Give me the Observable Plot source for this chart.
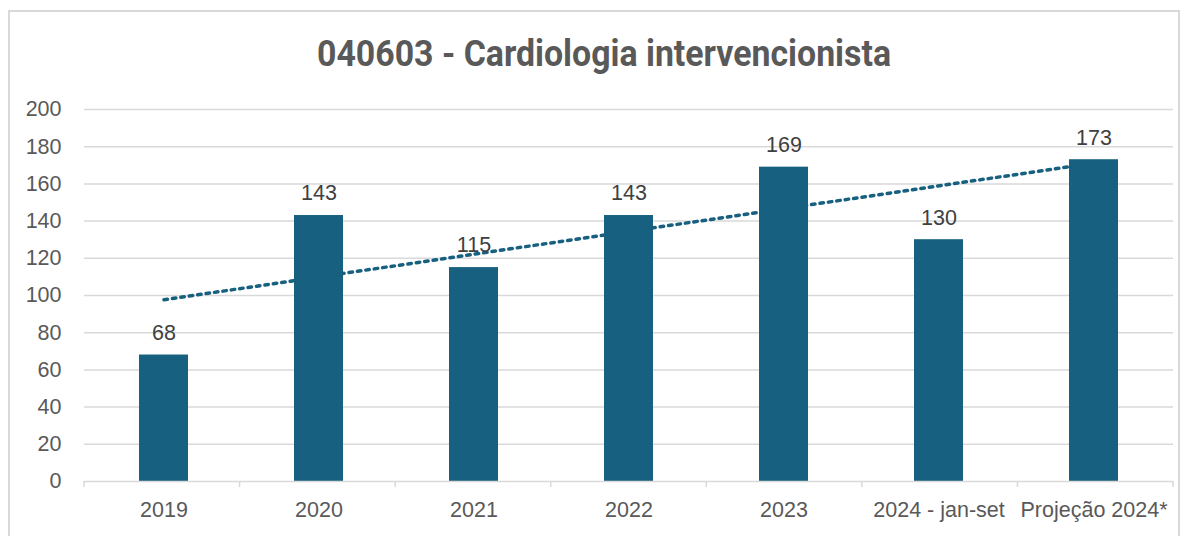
<!DOCTYPE html>
<html>
<head>
<meta charset="utf-8">
<script src="https://cdn.jsdelivr.net/npm/d3@7"></script>
<script src="https://cdn.jsdelivr.net/npm/@observablehq/plot@0.6"></script>
<style>
  html, body { margin: 0; padding: 0; background: #fff; width: 1192px; height: 536px; overflow: hidden; }
  #frame { position: absolute; left: 8px; top: 10px; width: 1172px; height: 540px; border: 2px solid #d9d9d9; box-sizing: border-box; }
  #title { position: absolute; left: 8px; top: 32px; width: 1192px; text-align: center; font-family: Roboto, "Noto Sans", sans-serif; font-weight: bold; font-size: 36px; line-height: 44px; color: #595959; transform: scaleX(0.94); transform-origin: 596px 0; }
  #chart { position: absolute; left: 0; top: 90px; }
</style>
</head>
<body>
<div id="frame"></div>
<div id="title">040603 - Cardiologia intervencionista</div>
<div id="chart"></div>
<script>
const categories = ["2019", "2020", "2021", "2022", "2023", "2024 - jan-set", "Projeção 2024*"];
const values = [68, 143, 115, 143, 169, 130, 173];
const trendCategories = ["2019", "Projeção 2024*"];
const trendValues = [97.7, 171.2];
const yTicks = [0, 20, 40, 60, 80, 100, 120, 140, 160, 180, 200];

const data = categories.map((c, i) => ({cat: c, value: values[i]}));
const trend = trendCategories.map((c, i) => ({cat: c, value: trendValues[i]}));

const barColor = "#17607f";
const textColor = "#595959";
const font = "'Liberation Sans', Arial, sans-serif";

const plot = Plot.plot({
  width: 1192,
  height: 446,
  marginLeft: 84,
  marginRight: 19,
  marginTop: 19,
  marginBottom: 55,
  style: {fontFamily: font, fontSize: "21px", color: textColor, background: "transparent"},
  x: {domain: categories, paddingInner: 0.685, paddingOuter: 0.3425, label: null},
  y: {domain: [0, 200], label: null},
  marks: [
    Plot.ruleY(yTicks.filter(d => d > 0), {y: d => d, stroke: "#d9d9d9", strokeWidth: 1.5, strokeOpacity: 1}),
    Plot.barY(data, {x: "cat", y: "value", fill: barColor}),
    Plot.ruleY([0], {stroke: "#d9d9d9", strokeWidth: 1.5, strokeOpacity: 1}),
    Plot.line(trend, {x: "cat", y: "value", stroke: barColor, strokeWidth: 3.5, strokeDasharray: "3.5,5", strokeLinecap: "round"}),
    Plot.text(data, {x: "cat", y: "value", text: d => String(d.value), dy: -22, fill: "#404040", fontSize: 21.5}),
    Plot.axisY({ticks: yTicks, tickSize: 0, tickPadding: 23, fill: textColor, fontSize: 21.5}),
    Plot.axisX({tickSize: 0, tickPadding: 20, fill: textColor, fontSize: 21.5})
  ]
});

// band-boundary ticks on the x axis, from the plot's x range
const r0 = 84, r1 = 1192 - 19;
const step = (r1 - r0) / categories.length;
const svg = d3.select(plot);
const baseY = 446 - 55;
svg.append("g").selectAll("line")
  .data(d3.range(categories.length + 1))
  .join("line")
  .attr("x1", i => r0 + i * step)
  .attr("x2", i => r0 + i * step)
  .attr("y1", baseY)
  .attr("y2", baseY + 6)
  .attr("stroke", "#d9d9d9")
  .attr("stroke-width", 1.5);

document.getElementById("chart").appendChild(plot);
</script>
</body>
</html>
